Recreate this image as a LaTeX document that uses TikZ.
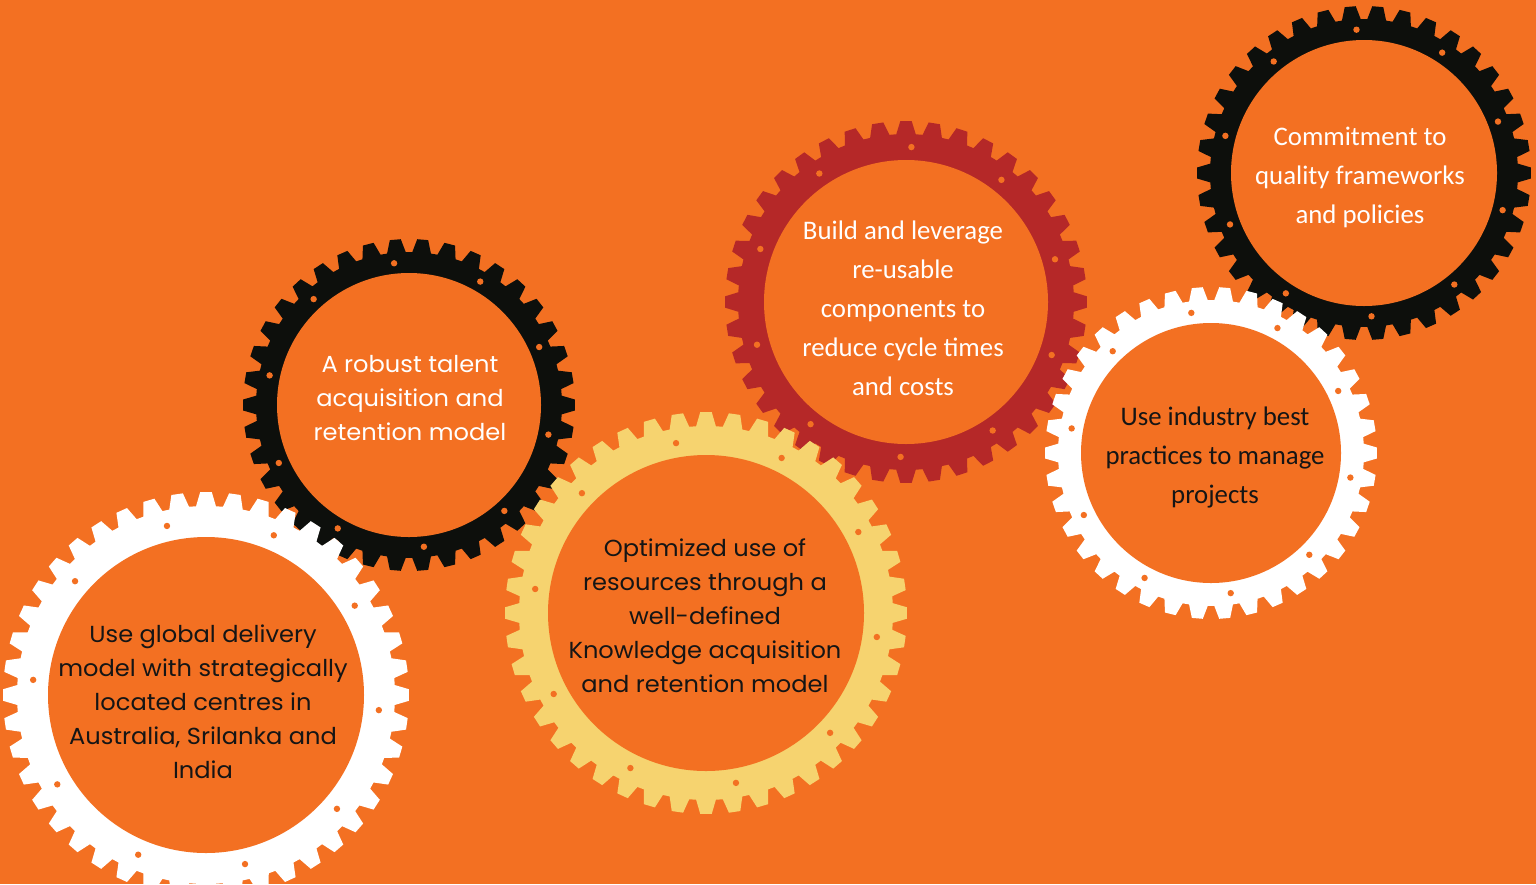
\documentclass[tikz,border=0pt]{standalone}
\usepackage{fontspec}
\newfontfamily\montfont[FakeStretch=1.04]{Poppins}
\newfontfamily\califont{Carlito}
\definecolor{bg}{HTML}{F37022}
\definecolor{gblack}{HTML}{0D0F0C}
\definecolor{gred}{HTML}{B52828}
\definecolor{gyellow}{HTML}{F6D36F}
\definecolor{txtdark}{HTML}{151515}
\newcommand\drawgear[8]{% cx, cy, R, rin, N, colour, hole offset, tooth depth
  \begin{scope}[shift={(#1,#2)}]
    \pgfmathsetmacro\gp{360/#5}
    \fill[#6] ({-0.2*\gp}:#3) \foreach \i in {1,...,#5} {
      -- ({(\i-1)*\gp+0.2*\gp}:#3) -- ({(\i-1)*\gp+0.37*\gp}:{#3-#8})
      -- ({(\i-1)*\gp+0.63*\gp}:{#3-#8}) -- ({(\i-1)*\gp+0.8*\gp}:#3)} -- cycle;
    \fill[bg] (0,0) circle (#4);
    \foreach \k in {0,...,9} \fill[bg] ({\k*36+#7}:{(#3-#8+#4)/2}) circle (3.2);
  \end{scope}}
\tikzset{
  monttxt/.style={align=center, inner sep=0pt, font=\montfont\fontsize{23.2}{34}\selectfont},
  calitxt/.style={align=center, inner sep=0pt, font=\califont\fontsize{26.8}{39}\selectfont},
}
\begin{document}
\begin{tikzpicture}[x=1pt,y=-1pt]
  \fill[bg] (0,0) rectangle (1536,884);
  \useasboundingbox (0,0) rectangle (1536,884);
  % gears
  \drawgear{409}{405}{166}{132}{38}{gblack}{12}{13}
  \drawgear{206}{695}{203}{158}{44}{white}{5}{14}
  \drawgear{906}{302}{181}{142}{40}{gred}{20}{13}
  \drawgear{706}{613}{201}{158}{44}{gyellow}{8}{14}
  \drawgear{1364}{173}{167}{133}{38}{gblack}{15}{13}
  \drawgear{1211}{453}{166}{130}{38}{white}{10}{13}
  % texts
  \node[monttxt, text=white] (t1) at (410,398) {A robust talent\\acquisition and\\retention model};
  \node[monttxt, text=txtdark] (t2) at (203,702) {Use global delivery\\model with strategically\\located centres in\\Australia, Srilanka and\\India};
  \node[monttxt, text=txtdark] (t3) at (705,616) {Optimized use of\\resources through a\\well-defined\\Knowledge acquisition\\and retention model};
  \node[calitxt, text=white] (t4) at (903,308) {Build and leverage\\re-usable\\components to\\reduce cycle times\\and costs};
  \node[calitxt, text=txtdark] (t5) at (1215,457) {Use industry best\\practices to manage\\projects};
  \node[calitxt, text=white] (t6) at (1360,177) {Commitment to\\quality frameworks\\and policies};
\end{tikzpicture}
\end{document}
